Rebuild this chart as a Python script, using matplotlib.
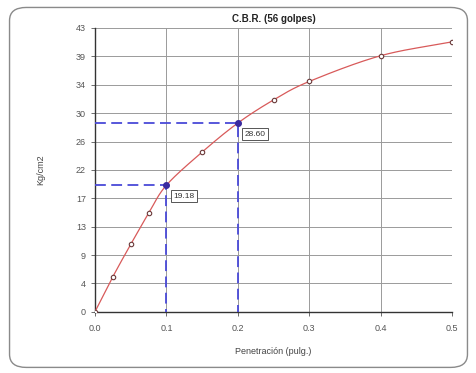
import numpy as np
import matplotlib
matplotlib.use("Agg")
import matplotlib.pyplot as plt
from matplotlib.patches import FancyBboxPatch

plt.rcParams['font.family'] = ['Liberation Sans Narrow', 'Liberation Sans', 'DejaVu Sans']

# Penetration (in) and load (kg/cm2)
penetracion = [0.0, 0.025, 0.05, 0.075, 0.1, 0.15, 0.2, 0.25, 0.3, 0.4, 0.5]
carga = [0.0, 5.3, 10.2, 14.9, 19.18, 24.2, 28.60, 32.1, 34.9, 38.8, 40.9]
ref_x = [0.1, 0.2]
ref_y = [19.18, 28.60]
ref_labels = ["19.18", "28.60"]
y_ticks = [0, 4.3, 8.6, 12.9, 17.2, 21.5, 25.8, 30.1, 34.4, 38.7, 43]
y_tick_labels = ["0", "4", "9", "13", "17", "22", "26", "30", "34", "39", "43"]
x_ticks = [0.0, 0.1, 0.2, 0.3, 0.4, 0.5]
x_tick_labels = ["0.0", "0.1", "0.2", "0.3", "0.4", "0.5"]


def catmull_rom(x, y, n=30):
    x = np.asarray(x, float)
    y = np.asarray(y, float)
    px = np.concatenate([[2 * x[0] - x[1]], x, [2 * x[-1] - x[-2]]])
    py = np.concatenate([[2 * y[0] - y[1]], y, [2 * y[-1] - y[-2]]])
    xs, ys = [], []
    for i in range(1, len(px) - 2):
        t = np.linspace(0, 1, n, endpoint=False)
        t2, t3 = t * t, t * t * t
        for p, out in ((px, xs), (py, ys)):
            p0, p1, p2, p3 = p[i - 1], p[i], p[i + 1], p[i + 2]
            out.append(0.5 * (2 * p1 + (-p0 + p2) * t + (2 * p0 - 5 * p1 + 4 * p2 - p3) * t2
                              + (-p0 + 3 * p1 - 3 * p2 + p3) * t3))
    xs.append([x[-1]])
    ys.append([y[-1]])
    return np.concatenate(xs), np.concatenate(ys)


fig = plt.figure(figsize=(4.77, 3.73), dpi=100)
fig.patch.set_facecolor('white')

# rounded outer frame
frame = FancyBboxPatch((0.02, 0.015), 0.96, 0.965, boxstyle="round,pad=0,rounding_size=0.035",
                       transform=fig.transFigure, facecolor='none', edgecolor='#8a8a8a',
                       linewidth=1.0)
fig.patches.append(frame)

ax = fig.add_axes([0.199, 0.164, 0.749, 0.761])
ax.set_facecolor('none')
ax.set_xlim(0, 0.5)
ax.set_ylim(0, 43)

ax.set_xticks(x_ticks)
ax.set_xticklabels(x_tick_labels)
ax.set_yticks(y_ticks)
ax.set_yticklabels(y_tick_labels)
ax.tick_params(axis='both', labelsize=6.5, colors='#555555', length=3, width=0.6)
ax.tick_params(axis='x', pad=6)
ax.grid(True, color='#9a9a9a', linewidth=0.7)
ax.set_axisbelow(True)
for side in ['left', 'bottom']:
    ax.spines[side].set_color('#333333')
    ax.spines[side].set_linewidth(1.0)
for side in ['right', 'top']:
    ax.spines[side].set_visible(False)

# reference dashed guides
for xv, yv in zip(ref_x, ref_y):
    ax.plot([0, xv, xv], [yv, yv, 0], color='#4a4ad8', linestyle=(0, (6, 3)), linewidth=1.3,
            zorder=3)

cx, cy = catmull_rom(penetracion, carga)
ax.plot(cx, cy, color='#d85a5a', linewidth=0.9, zorder=4)
ax.plot(penetracion, carga, linestyle='none', marker='o', markersize=3.2,
        markerfacecolor='white', markeredgecolor='#6a3a3a', markeredgewidth=0.8, zorder=5)
ax.plot(ref_x, ref_y, linestyle='none', marker='o', markersize=4, color='#3a2aa0', zorder=6)

for xv, yv, lab in zip(ref_x, ref_y, ref_labels):
    ax.annotate(lab, (xv, yv), xytext=(5, -8), textcoords='offset points', fontsize=6,
                color='#333333', va='center', ha='left',
                bbox=dict(boxstyle='square,pad=0.3', facecolor='white', edgecolor='#555555',
                          linewidth=0.7), zorder=7)

ax.set_title("C.B.R. (56 golpes)", fontsize=7, fontweight='bold', color='#222222', pad=4)
ax.set_xlabel("Penetración (pulg.)", fontsize=6.5, color='#444444', labelpad=10)
ax.set_ylabel("Kg/cm2", fontsize=6.5, color='#444444', labelpad=22)

fig.savefig("out.png", dpi=100)
